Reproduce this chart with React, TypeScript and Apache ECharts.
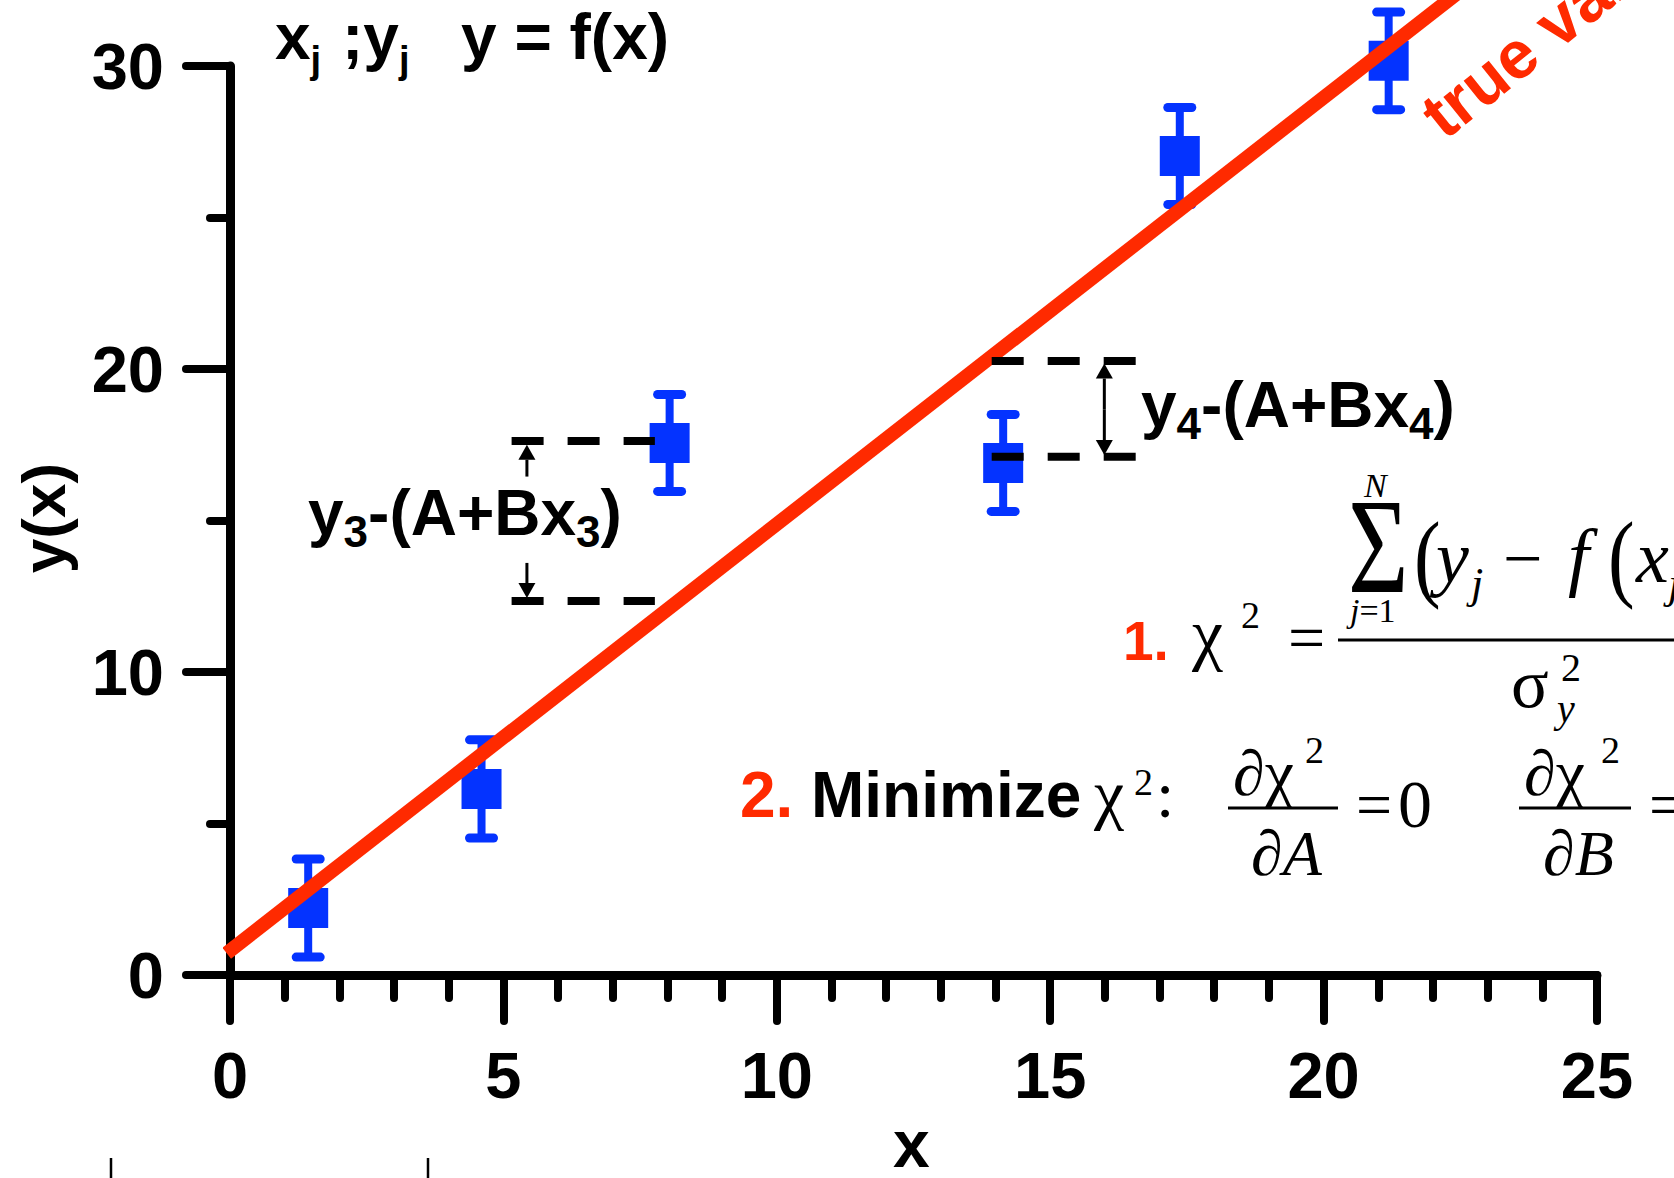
import React, { useEffect, useRef } from 'react';
import * as echarts from 'echarts';

// ---- data ----
const xTickValues = [0, 5, 10, 15, 20, 25];
const xTickLabels = ['0', '5', '10', '15', '20', '25'];
const yTickValues = [0, 10, 20, 30];
const yTickLabels = ['0', '10', '20', '30'];

const pointX = [1.43, 4.6, 8.04, 14.14, 17.37, 21.19];
const pointY = [2.21, 6.14, 17.56, 16.9, 27.03, 30.17];
const pointErr = [1.62, 1.62, 1.6, 1.6, 1.6, 1.61];

// "true value" straight line, end points
const fitX = [-0.06, 23.0];
const fitY = [0.72, 33.18];

// dashed residual guides
const dashX1 = [5.15, 5.15, 13.93, 13.93];
const dashX2 = [7.77, 7.77, 16.57, 16.57];
const dashY = [17.62, 12.34, 20.26, 17.1];

// arrows (tip at arrowTo)
const arrowX = [5.43, 5.43, 15.99, 15.99];
const arrowFrom = [16.45, 13.6, 18.67, 18.67];
const arrowTo = [17.5, 12.44, 20.18, 17.16];

const RED = '#ff2a00';
const BLUE = '#0433ff';
const SANS = '"Liberation Sans", Arial, sans-serif';
const SERIF = '"Liberation Serif", "Times New Roman", serif';

type Run = {
  t: string; s: number; serif?: boolean; b?: boolean; i?: boolean; c?: string;
  x?: number; dx?: number; dy?: number; sy?: number; sx?: number;
};

let mctx: CanvasRenderingContext2D | null = null;
function fontOf(r: Run) {
  return `${r.i ? 'italic ' : ''}${r.b ? 'bold ' : ''}${r.s}px ${r.serif ? SERIF : SANS}`;
}
function measure(t: string, font: string) {
  if (!mctx) mctx = document.createElement('canvas').getContext('2d');
  if (!mctx) return t.length * 20;
  mctx.font = font;
  return mctx.measureText(t).width;
}
function layout(x0: number, base: number, runs: Run[]) {
  let x = x0;
  const out: any[] = [];
  for (const r of runs) {
    if (r.x != null) x = r.x;
    x += r.dx || 0;
    const font = fontOf(r);
    const k = r.serif ? 0.3375 : 0.3465;
    out.push({
      type: 'text', x, y: base + (r.dy || 0), scaleX: r.sx || 1, scaleY: r.sy || 1, z: 100,
      style: {
        text: r.t, x: 0, y: -k * r.s, font, fill: r.c || '#000',
        align: 'left', verticalAlign: 'middle', textAlign: 'left', textVerticalAlign: 'middle',
      },
    });
    x += measure(r.t, font) * (r.sx || 1);
  }
  return out;
}
function hline(x1: number, x2: number, y: number, w: number) {
  return { type: 'line', z: 100, shape: { x1, y1: y, x2, y2: y }, style: { stroke: '#000', lineWidth: w } };
}
function vline(x: number, y1: number, y2: number, w: number) {
  return { type: 'line', z: 100, shape: { x1: x, y1, x2: x, y2 }, style: { stroke: '#000', lineWidth: w } };
}

function buildGraphics() {
  const g: any[] = [];
  // top label
  g.push(...layout(275, 59, [
    { t: 'x', s: 64, b: true, x: 275 },
    { t: 'j', s: 38, b: true, dy: 14 },
    { t: ';', s: 64, b: true, x: 342 },
    { t: 'y', s: 64, b: true },
    { t: 'j', s: 38, b: true, dy: 14 },
    { t: 'y = f(x)', s: 64, b: true, x: 461 },
  ]));
  // residual labels
  g.push(...layout(308, 535, [
    { t: 'y', s: 64, b: true }, { t: '3', s: 44, b: true, dy: 12 },
    { t: '-(A+Bx', s: 64, b: true }, { t: '3', s: 44, b: true, dy: 12 }, { t: ')', s: 64, b: true },
  ]));
  g.push(...layout(1141, 427, [
    { t: 'y', s: 64, b: true }, { t: '4', s: 44, b: true, dy: 12 },
    { t: '-(A+Bx', s: 64, b: true }, { t: '4', s: 44, b: true, dy: 12 }, { t: ')', s: 64, b: true },
  ]));
  // true value
  g.push({
    type: 'text', x: 1430, y: 123, rotation: 0.675, z: 100,
    style: { text: 'true value', x: 0, y: 0, font: `bold 67px ${SANS}`, fill: RED, align: 'left', verticalAlign: 'middle', textAlign: 'left', textVerticalAlign: 'middle' },
  });
  // axis titles
  g.push({
    type: 'text', x: 43, y: 518, rotation: Math.PI / 2, z: 100,
    style: { text: 'y(x)', x: 0, y: 0, font: `bold 62px ${SANS}`, fill: '#000', align: 'center', verticalAlign: 'middle', textAlign: 'center', textVerticalAlign: 'middle' },
  });
  g.push(...layout(893, 1167, [{ t: 'x', s: 66, b: true }]));

  // formula 1
  g.push(...layout(1123, 660, [{ t: '1.', s: 55, b: true, c: RED }]));
  g.push(...layout(1192, 657, [{ t: 'χ', s: 70, serif: true }]));
  g.push(...layout(1241, 628, [{ t: '2', s: 38, serif: true }]));
  g.push(...layout(1288, 660, [{ t: '=', s: 66, serif: true }]));
  g.push(hline(1338, 1690, 640, 3));
  g.push(...layout(1348, 592, [{ t: 'Σ', s: 104, serif: true, sy: 1.31 }]));
  g.push(...layout(1364, 497, [{ t: 'N', s: 34, serif: true, i: true }]));
  g.push(...layout(1350, 622, [
    { t: 'j', s: 34, serif: true, i: true }, { t: '=', s: 34, serif: true }, { t: '1', s: 34, serif: true },
  ]));
  g.push(...layout(1414, 589, [{ t: '(', s: 80, serif: true, sy: 1.22 }]));
  g.push(...layout(1436, 582, [{ t: 'y', s: 74, serif: true, i: true }]));
  g.push(...layout(1471, 598, [{ t: 'j', s: 44, serif: true, i: true }]));
  g.push(...layout(1503, 582, [{ t: '−', s: 70, serif: true }]));
  g.push(...layout(1568, 582, [{ t: 'f', s: 76, serif: true, i: true }]));
  g.push(...layout(1608, 589, [{ t: '(', s: 80, serif: true, sy: 1.22 }]));
  g.push(...layout(1636, 582, [{ t: 'x', s: 74, serif: true, i: true }]));
  g.push(...layout(1668, 598, [{ t: 'j', s: 44, serif: true, i: true }]));
  g.push(...layout(1511, 707, [{ t: 'σ', s: 70, serif: true }]));
  g.push(...layout(1561, 681, [{ t: '2', s: 40, serif: true }]));
  g.push(...layout(1557, 722, [{ t: 'y', s: 40, serif: true, i: true }]));

  // formula 2
  g.push(...layout(740, 817, [{ t: '2.', s: 64, b: true, c: RED }]));
  g.push(...layout(811, 817, [{ t: 'Minimize', s: 64, b: true }]));
  g.push(...layout(1094, 817, [{ t: 'χ', s: 68, serif: true }]));
  g.push(...layout(1134, 795, [{ t: '2', s: 38, serif: true }]));
  g.push(...layout(1156, 817, [{ t: ':', s: 66, serif: true }]));
  // dχ²/dA
  g.push(...layout(1233, 795, [{ t: '∂', s: 64, serif: true }, { t: 'χ', s: 66, serif: true }]));
  g.push(...layout(1305, 763, [{ t: '2', s: 38, serif: true }]));
  g.push(hline(1228, 1338, 808, 3));
  g.push(...layout(1251, 875, [{ t: '∂', s: 64, serif: true }, { t: 'A', s: 64, serif: true, i: true }]));
  g.push(...layout(1356, 826, [{ t: '=', s: 64, serif: true }]));
  g.push(...layout(1398, 827, [{ t: '0', s: 68, serif: true }]));
  // dχ²/dB
  g.push(...layout(1524, 795, [{ t: '∂', s: 64, serif: true }, { t: 'χ', s: 66, serif: true }]));
  g.push(...layout(1601, 763, [{ t: '2', s: 38, serif: true }]));
  g.push(hline(1519, 1631, 808, 3));
  g.push(...layout(1543, 875, [{ t: '∂', s: 64, serif: true }, { t: 'B', s: 64, serif: true, i: true }]));
  g.push(...layout(1649, 826, [{ t: '=', s: 64, serif: true }]));

  // stray marks at the bottom edge
  g.push(vline(111, 1158, 1180, 2.5));
  g.push(vline(428, 1158, 1180, 2.5));
  return g;
}

export default function App() {
  const ref = useRef<HTMLDivElement>(null);
  useEffect(() => {
    if (!ref.current) return;
    const chart = echarts.init(ref.current, null, { renderer: 'svg' });
    const axisCommon = (labelMargin: number, tickLen: number, minorLen: number, split: number, vals: number[], labs: string[]) => ({
      type: 'value',
      axisLine: { show: true, onZero: false, lineStyle: { color: '#000', width: 9, cap: 'round' } },
      axisTick: { show: true, inside: false, length: tickLen, lineStyle: { color: '#000', width: 8, cap: 'round' } },
      minorTick: { show: true, splitNumber: split, length: minorLen, lineStyle: { color: '#000', width: 8, cap: 'round' } },
      splitLine: { show: false },
      minorSplitLine: { show: false },
      axisLabel: {
        margin: labelMargin, fontSize: 65, fontWeight: 'bold', fontFamily: SANS, color: '#000',
        formatter: (v: number) => { const i = vals.indexOf(v); return i >= 0 ? labs[i] : ''; },
      },
    });
    const option: any = {
      animation: false,
      backgroundColor: '#fff',
      grid: { left: 230, right: 77, top: 66, bottom: 203, containLabel: false },
      xAxis: { ...axisCommon(68, 46, 23, 5, xTickValues, xTickLabels), min: 0, max: 25, interval: 5 },
      yAxis: { ...axisCommon(66, 44, 20, 2, yTickValues, yTickLabels), min: 0, max: 30, interval: 10 },
      series: [
        {
          type: 'custom', z: 2, silent: true, clip: false,
          encode: { x: 0, y: 1 },
          data: pointX.map((x, i) => [x, pointY[i], pointErr[i]]),
          renderItem: (_p: any, api: any) => {
            const x = api.value(0), y = api.value(1), e = api.value(2);
            const c = api.coord([x, y]);
            const t = api.coord([x, y + e]);
            const b = api.coord([x, y - e]);
            return {
              type: 'group',
              children: [
                { type: 'line', shape: { x1: c[0], y1: t[1], x2: c[0], y2: b[1] }, style: { stroke: BLUE, lineWidth: 8 } },
                { type: 'line', shape: { x1: c[0] - 12, y1: t[1], x2: c[0] + 12, y2: t[1] }, style: { stroke: BLUE, lineWidth: 9, lineCap: 'round' } },
                { type: 'line', shape: { x1: c[0] - 12, y1: b[1], x2: c[0] + 12, y2: b[1] }, style: { stroke: BLUE, lineWidth: 9, lineCap: 'round' } },
                { type: 'rect', shape: { x: c[0] - 20, y: c[1] - 20, width: 40, height: 40 }, style: { fill: BLUE } },
              ],
            };
          },
        },
        {
          type: 'line', z: 3, silent: true, clip: false, symbol: 'none',
          data: fitX.map((x, i) => [x, fitY[i]]),
          lineStyle: { color: RED, width: 14, cap: 'butt' },
        },
        {
          type: 'custom', z: 4, silent: true, clip: false,
          encode: { x: 0, y: 2 },
          data: dashX1.map((x, i) => [x, dashX2[i], dashY[i]]),
          renderItem: (_p: any, api: any) => {
            const a = api.coord([api.value(0), api.value(2)]);
            const b = api.coord([api.value(1), api.value(2)]);
            return {
              type: 'line', shape: { x1: a[0], y1: a[1], x2: b[0], y2: b[1] },
              style: { stroke: '#000', lineWidth: 8, lineDash: [32, 24] },
            };
          },
        },
        {
          type: 'custom', z: 4, silent: true, clip: false,
          encode: { x: 0, y: 1 },
          data: arrowX.map((x, i) => [x, arrowFrom[i], arrowTo[i]]),
          renderItem: (_p: any, api: any) => {
            const x = api.value(0);
            const p0 = api.coord([x, api.value(1)]);
            const p1 = api.coord([x, api.value(2)]);
            const dir = p1[1] > p0[1] ? 1 : -1;
            const hl = 15, hw = 8.5;
            return {
              type: 'group',
              children: [
                { type: 'line', shape: { x1: p0[0], y1: p0[1], x2: p1[0], y2: p1[1] - dir * hl }, style: { stroke: '#000', lineWidth: 3 } },
                { type: 'polygon', shape: { points: [[p1[0], p1[1]], [p1[0] - hw, p1[1] - dir * hl], [p1[0] + hw, p1[1] - dir * hl]] }, style: { fill: '#000' } },
              ],
            };
          },
        },
      ],
      graphic: { elements: buildGraphics() },
    };
    chart.setOption(option);
    return () => chart.dispose();
  }, []);
  return (
    <div
      ref={ref}
      style={{ position: 'fixed', left: 0, top: 0, width: 1674, height: 1178, background: '#fff' }}
    />
  );
}
